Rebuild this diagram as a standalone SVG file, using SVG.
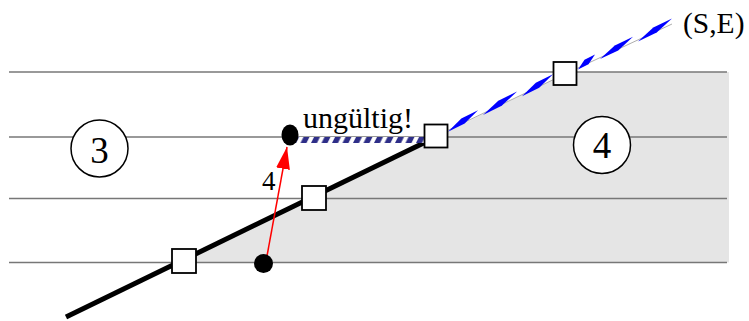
<svg xmlns="http://www.w3.org/2000/svg" width="749" height="321" viewBox="0 0 749 321">
  <style>
    .grid { stroke: #777; stroke-width: 1.5; fill: none; }
    .box { fill: #fff; stroke: #000; stroke-width: 1.8; }
    .zone { fill: #fff; stroke: #000; stroke-width: 1.5; }
    .lbl { font-family: "Liberation Serif", "Times New Roman", serif; fill: #000; }
    .dash { fill: #0000ff; stroke: none; }
  </style>
  <defs>
    <pattern id="hatch" patternUnits="userSpaceOnUse" x="290" y="137" width="10.5" height="6">
      <rect x="0" y="0" width="10.5" height="6" fill="#fff"/>
      <polygon points="0,6 6,6 9,0 3,0" fill="#2e2e88"/>
      <polygon points="10.5,6 16.5,6 19.5,0 13.5,0" fill="#2e2e88"/>
    </pattern>
    <marker id="arrow" viewBox="0 0 22 14" refX="22" refY="7" markerWidth="22" markerHeight="14" markerUnits="userSpaceOnUse" orient="auto">
      <path d="M0,0 L22,7 L0,14 z" fill="#ff0000"/>
    </marker>
  </defs>

  <!-- background region -->
  <polygon id="region4" points="179,262.5 436,137 569,72 729,72 729,262.5" fill="#e5e5e5"/>

  <!-- horizontal scan lines -->
  <g id="lines">
    <line class="grid" x1="9" y1="72" x2="727" y2="72"/>
    <line class="grid" x1="9" y1="137" x2="727" y2="137"/>
    <line class="grid" x1="9" y1="198.5" x2="727" y2="198.5"/>
    <line class="grid" x1="9" y1="262.5" x2="727" y2="262.5"/>
  </g>

  <g id="connectors">
    <!-- thick black segment -->
    <line x1="66" y1="317" x2="436" y2="137" stroke="#000" stroke-width="5"/>
    <!-- invalid hatched segment -->
    <rect x="290" y="137" width="136" height="6" fill="url(#hatch)"/>
    <!-- blue (S,E) ray -->
    <polyline points="436,136 565,74 672,24" fill="none" stroke="#999" stroke-width="0.8"/>
    <g id="blue-dashes">
      <polygon class="dash" points="448,131.7 464.7,123.4 478,110.3 461.3,118.6"/>
      <polygon class="dash" points="483,114.9 501.7,105.7 517,91.6 498.3,100.8"/>
      <polygon class="dash" points="522,96.2 539.2,87.7 553,74.3 535.8,82.8"/>
      <polygon class="dash" points="578,69.4 588.5,64.2 595,54.5 584.5,59.7"/>
      <polygon class="dash" points="600,59.1 618.2,50.4 633,36.7 614.8,45.4"/>
      <polygon class="dash" points="638,41.4 656.7,32.4 672,18.5 653.3,27.5"/>
    </g>
    <!-- red arrow -->
    <line x1="267" y1="256" x2="287" y2="147" stroke="#ff0000" stroke-width="1.5" marker-end="url(#arrow)"/>
  </g>

  <g id="dot-bottom"><circle cx="263.5" cy="263.5" r="9.5" fill="#000"/></g>
  <g id="dot-top"><ellipse cx="290" cy="135" rx="8.5" ry="10.5" fill="#000"/></g>

  <g id="box1"><rect class="box" x="172" y="249" width="24" height="24"/></g>
  <g id="box2"><rect class="box" x="302" y="186" width="24" height="24"/></g>
  <g id="box3"><rect class="box" x="424.5" y="124.5" width="23" height="23"/></g>
  <g id="box4"><rect class="box" x="553.5" y="62" width="23" height="23"/></g>

  <g id="zone3">
    <circle class="zone" cx="99.5" cy="148.5" r="28.5"/>
    <text class="lbl" x="99.5" y="163" font-size="37" text-anchor="middle">3</text>
  </g>
  <g id="zone4">
    <circle class="zone" cx="602" cy="145" r="28.5"/>
    <text class="lbl" x="602" y="158" font-size="37" text-anchor="middle">4</text>
  </g>

  <text class="lbl" x="303" y="128" font-size="30">ungültig!</text>
  <text class="lbl" x="683" y="33" font-size="29.5">(S,E)</text>
  <text class="lbl" x="262" y="190" font-size="27">4</text>
</svg>
